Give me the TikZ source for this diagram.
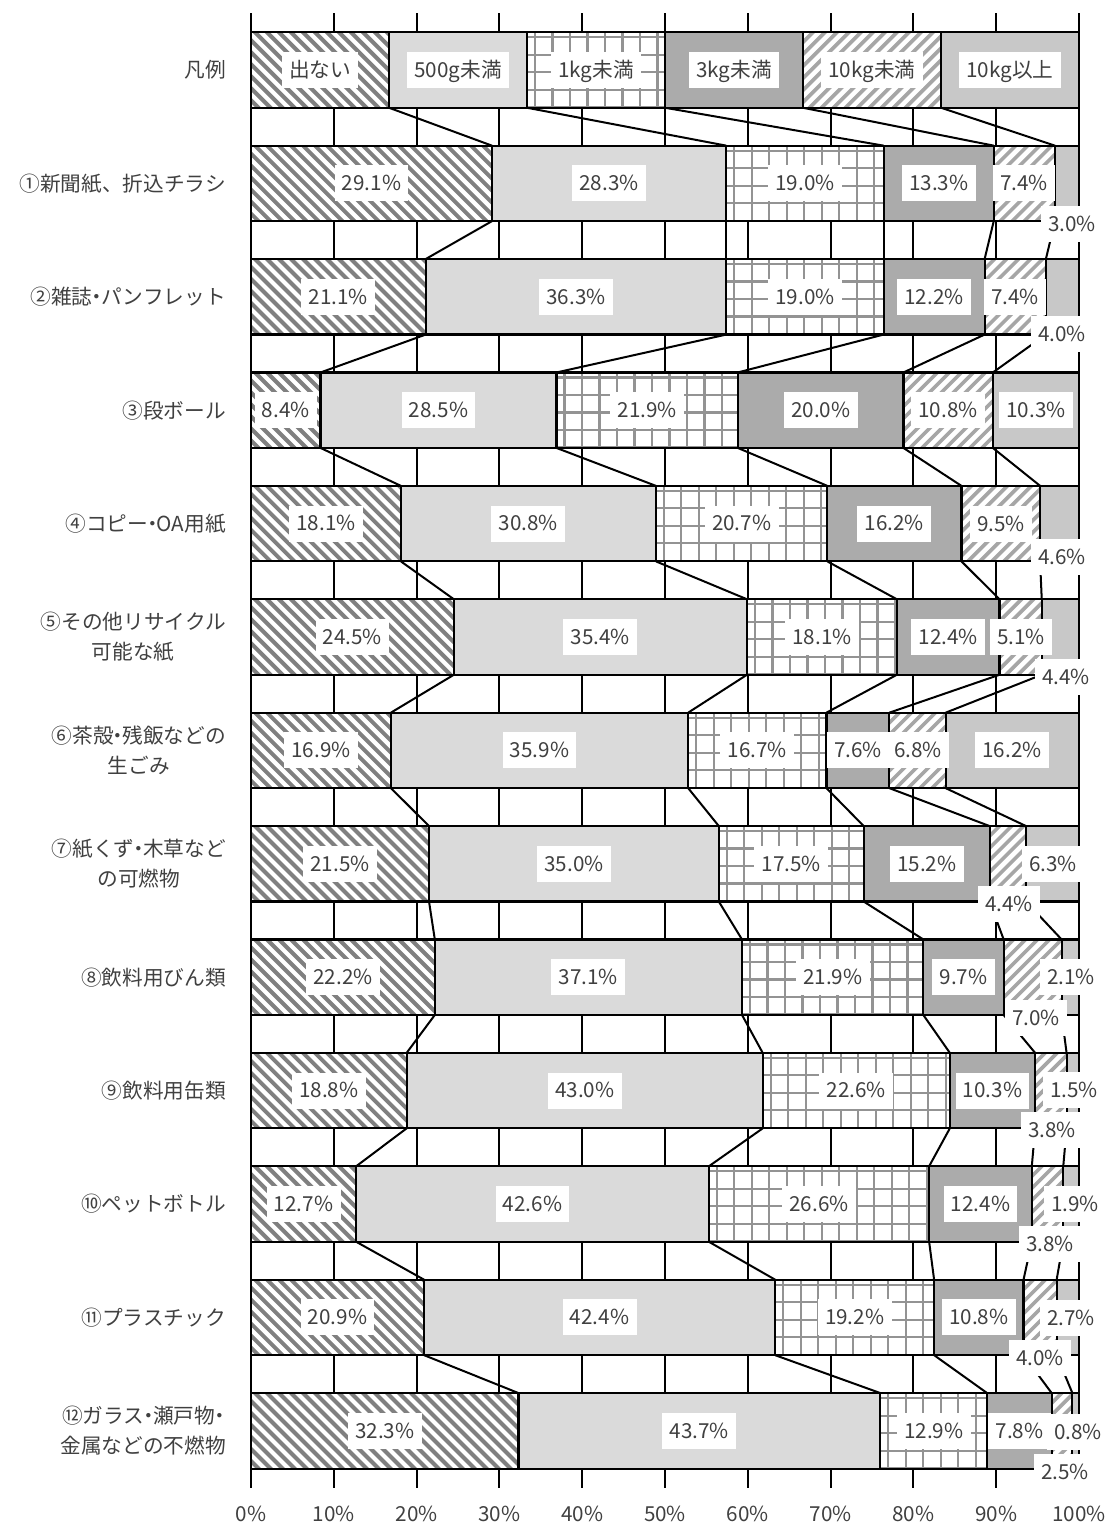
\documentclass[tikz,border=0pt]{standalone}
\usepackage{fontspec}
\setmainfont{Noto Sans CJK JP}
\usetikzlibrary{patterns.meta,calc}
\definecolor{txt}{HTML}{404040}
\definecolor{stripeA}{HTML}{808080}
\definecolor{stripeB}{HTML}{A6A6A6}
\definecolor{gridc}{HTML}{939393}
\definecolor{lightg}{HTML}{DADADA}
\definecolor{midg}{HTML}{ABABAB}
\definecolor{paleg}{HTML}{C8C8C8}
\newcommand\nd{\makebox[0.42em][c]{・}}
\def\rows{1/29.1/28.3/19.0/13.3/7.4/3.0/1024/183/1072/224,%
2/21.1/36.3/19.0/12.2/7.4/4.0/1015/297/1062/334,%
3/8.4/28.5/21.9/20.0/10.8/10.3/948/410/1036/410,%
4/18.1/30.8/20.7/16.2/9.5/4.6/1001/524/1062/557,%
5/24.5/35.4/18.1/12.4/5.1/4.4/1021/637/1066/677,%
6/16.9/35.9/16.7/7.6/6.8/16.2/918/750/1012/750,%
7/21.5/35.0/17.5/15.2/4.4/6.3/1009/904/1053/864,%
8/22.2/37.1/21.9/9.7/7.0/2.1/1036/1018/1071/977,%
9/18.8/43.0/22.6/10.3/3.8/1.5/1052/1130/1074/1090,%
10/12.7/42.6/26.6/12.4/3.8/1.9/1050/1244/1075/1204,%
11/20.9/42.4/19.2/10.8/4.0/2.7/1040/1358/1071/1318,%
12/32.3/43.7/12.9/7.8/2.5/0.8/1065/1472/1078/1432}
\begin{document}
\begin{tikzpicture}[x=0.75pt,y=-0.75pt,
  font=\fontsize{15.5pt}{22.5pt}\selectfont,
  lab/.style={fill=white,text=txt,inner xsep=5.5pt,inner ysep=0pt,minimum height=27pt,text height=11pt,text depth=0pt},
  cat/.style={anchor=east,align=center,text=txt,inner sep=0pt},
  axl/.style={text=txt,inner sep=0pt},
  bord/.style={draw=black,line width=1.6pt},
  s1/.style={bord,fill=white,path picture={
    \foreach \i in {0,...,46} {
      \draw[stripeA,line width=3pt] ($(path picture bounding box.north west)+(\i*12-82,-2)$) -- ++(84,84);
    }}},
  s2/.style={bord,fill=lightg},
  s3/.style={bord,fill=white,path picture={
    \foreach \i in {0,...,26} {
      \draw[gridc,line width=1.6pt] ($(path picture bounding box.north west)+(\i*17.5+8,-2)$) -- ++(0,84);
    }
    \foreach \i in {0,...,4} {
      \draw[gridc,line width=1.6pt] ($(path picture bounding box.north west)+(-2,\i*17.5+5)$) -- ++(480,0);
    }}},
  s4/.style={bord,fill=midg},
  s5/.style={bord,fill=white,path picture={
    \foreach \i in {0,...,46} {
      \draw[stripeB,line width=2.7pt] ($(path picture bounding box.north west)+(\i*12,-2)$) -- ++(-84,84);
    }}},
  s6/.style={bord,fill=paleg},
  gline/.style={draw=black,line width=1.5pt},
  sline/.style={draw=black,line width=1.5pt}]
\useasboundingbox (0,0) rectangle (1110,1528);
% coordinates: legend row
\foreach \j in {0,...,6} {
  \pgfmathsetmacro\xx{251+828*\j/6}
  \coordinate (t0-\j) at (\xx,32.25);
  \coordinate (b0-\j) at (\xx,107.75);
}
% coordinates: data rows
\foreach \k/\va/\vb/\vc/\vd/\ve/\vf/\xe/\ye/\xf/\yf in \rows {
  \pgfmathsetmacro\yc{70+113.4*\k}
  \pgfmathsetmacro\ca{\va}
  \pgfmathsetmacro\cb{\va+\vb}
  \pgfmathsetmacro\cc{\cb+\vc}
  \pgfmathsetmacro\cd{\cc+\vd}
  \pgfmathsetmacro\ce{\cd+\ve}
  \foreach \j/\c in {0/0,1/\ca,2/\cb,3/\cc,4/\cd,5/\ce,6/100} {
    \coordinate (t\k-\j) at ({251+8.28*\c},{\yc-37.75});
    \coordinate (b\k-\j) at ({251+8.28*\c},{\yc+37.75});
  }
}
% gridlines and axis
\foreach \p in {0,...,10} {
  \draw[gline] ({251+82.8*\p},13) -- ({251+82.8*\p},1488);
  \pgfmathtruncatemacro\v{10*\p}
  \node[axl] (ax\p) at ({251+82.8*\p},1514) {\v\%};
}
% series lines
\foreach \k [evaluate=\k as \n using int(\k+1)] in {0,...,11} {
  \foreach \j in {1,...,5} {
    \draw[sline] (b\k-\j) -- (t\n-\j);
  }
}
% bars
\foreach \k in {0,...,12} {
  \path[s1] (t\k-0) rectangle (b\k-1);
  \path[s2] (t\k-1) rectangle (b\k-2);
  \path[s3] (t\k-2) rectangle (b\k-3);
  \path[s4] (t\k-3) rectangle (b\k-4);
  \path[s5] (t\k-4) rectangle (b\k-5);
  \path[s6] (t\k-5) rectangle (b\k-6);
}
% legend labels
\foreach \j/\t in {1/出ない,2/500g未満,3/1kg未満,4/3kg未満,5/10kg未満,6/10kg以上} {
  \node[lab] (lg\j) at ({251+828*(\j-0.5)/6},70) {\t};
}
% value labels
\foreach \k/\va/\vb/\vc/\vd/\ve/\vf/\xe/\ye/\xf/\yf in \rows {
  \node[lab] (v\k-1) at ($(t\k-0)!0.5!(b\k-1)$) {\va\%};
  \node[lab] (v\k-2) at ($(t\k-1)!0.5!(b\k-2)$) {\vb\%};
  \node[lab] (v\k-3) at ($(t\k-2)!0.5!(b\k-3)$) {\vc\%};
  \node[lab] (v\k-4) at ($(t\k-3)!0.5!(b\k-4)$) {\vd\%};
  \node[lab] (v\k-5) at (\xe,\ye) {\ve\%};
  \node[lab] (v\k-6) at (\xf,\yf) {\vf\%};
}
% category labels
\node[cat] (c0) at (226,70) {凡例};
\node[cat] (c1) at (226,183.4) {①新聞紙、折込チラシ};
\node[cat] (c2) at (226,296.8) {②雑誌\nd パンフレット};
\node[cat] (c3) at (226,410.2) {③段ボール};
\node[cat] (c4) at (226,523.6) {④コピー\nd OA用紙};
\node[cat] (c5) at (226,637) {⑤その他リサイクル\\可能な紙};
\node[cat] (c6) at (226,750.4) {⑥茶殻\nd 残飯などの\\生ごみ};
\node[cat] (c7) at (226,863.8) {⑦紙くず\nd 木草など\\の可燃物};
\node[cat] (c8) at (226,977.2) {⑧飲料用びん類};
\node[cat] (c9) at (226,1090.6) {⑨飲料用缶類};
\node[cat] (c10) at (226,1204) {⑩ペットボトル};
\node[cat] (c11) at (226,1317.4) {⑪プラスチック};
\node[cat] (c12) at (226,1430.8) {⑫ガラス\nd 瀬戸物\nd\\金属などの不燃物};
\end{tikzpicture}
\end{document}
